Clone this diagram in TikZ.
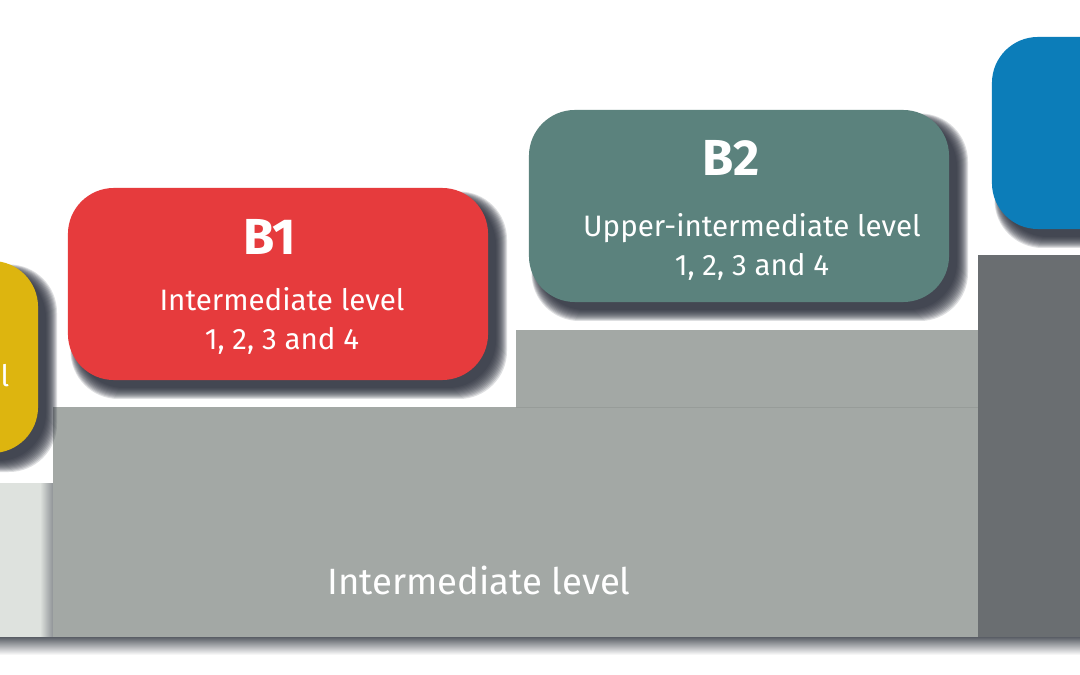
\documentclass[tikz,border=0pt]{standalone}
\usepackage{fontspec}
\setmainfont{Fira Sans}
\usetikzlibrary{positioning}
\definecolor{lvlyellow}{HTML}{DDB50F}
\definecolor{lvlred}{HTML}{E63B3D}
\definecolor{lvlteal}{HTML}{5B827D}
\definecolor{lvlblue}{HTML}{0C7DB9}
\definecolor{steplight}{HTML}{DEE2DE}
\definecolor{stepmid}{HTML}{A3A8A5}
\definecolor{stepdark}{HTML}{6A6E71}
\definecolor{stepline}{HTML}{979C99}
\definecolor{stepshade}{HTML}{5A5E66}
\definecolor{boxshade}{HTML}{272B38}

\begin{document}
\begin{tikzpicture}[x=0.025cm, y=-0.025cm,
    lvlbox/.style={rounded corners=1.15cm, minimum width=10.5cm, minimum height=4.8cm,
      inner sep=0pt, outer sep=0pt},
    boxshadow/.style={fill=boxshade, opacity=0.15, rounded corners=1.2cm},
    title/.style={text=white, font=\fontsize{36}{40}\selectfont\bfseries},
    info/.style={text=white, align=center, font=\fontsize{21}{27.5}\selectfont},
    steptext/.style={text=white, font=\fontsize{26}{30}\selectfont}]
  \path[use as bounding box, fill=white] (0,0) rectangle (1080,675);
  \clip (0,0) rectangle (1080,675);

  % steps
  \fill[steplight] (-20,483) rectangle (53,637);
  \shade[left color=steplight, right color=stepshade!60!steplight] (40,483) rectangle (53,637);
  \fill[stepmid] (53,407) rectangle (978,637);
  \fill[stepmid] (516,330) rectangle (978,408);
  \draw[stepline, line width=0.6pt] (516,407) -- (978,407);
  \fill[stepdark] (978,255) rectangle (1100,637);
  \shade[top color=stepshade, bottom color=white] (0,637) rectangle (1080,655);
  \node[steptext] (midlabel) at (479,580) {Intermediate level};

  % soft shadows under the level boxes
  \foreach \cx/\cy in {-172/357, 278/284, 739/206, 1202/133}
    \foreach \g in {0,...,11}
      \fill[boxshadow] (\cx-210+8-\g*0.5, \cy-96+9-\g*0.5) rectangle (\cx+210+8+\g, \cy+96+8+\g);

  % level boxes
  \node[lvlbox, fill=lvlyellow] (a2) at (-172,357) {};
  \node[info] (a2txt) at (5,376) {l};

  \node[lvlbox, fill=lvlred] (b1) at (278,284) {};
  \node[title] (b1title) at (270,237) {B1};
  \node[info] (b1txt) at (282,321) {Intermediate level\\1, 2, 3 and 4};

  \node[lvlbox, fill=lvlteal] (b2) at (739,206) {};
  \node[title] (b2title) at (731,158) {B2};
  \node[info] (b2txt) at (752,247) {Upper-intermediate level\\1, 2, 3 and 4};

  \node[lvlbox, fill=lvlblue] (c1) at (1202,133) {};
\end{tikzpicture}
\end{document}
